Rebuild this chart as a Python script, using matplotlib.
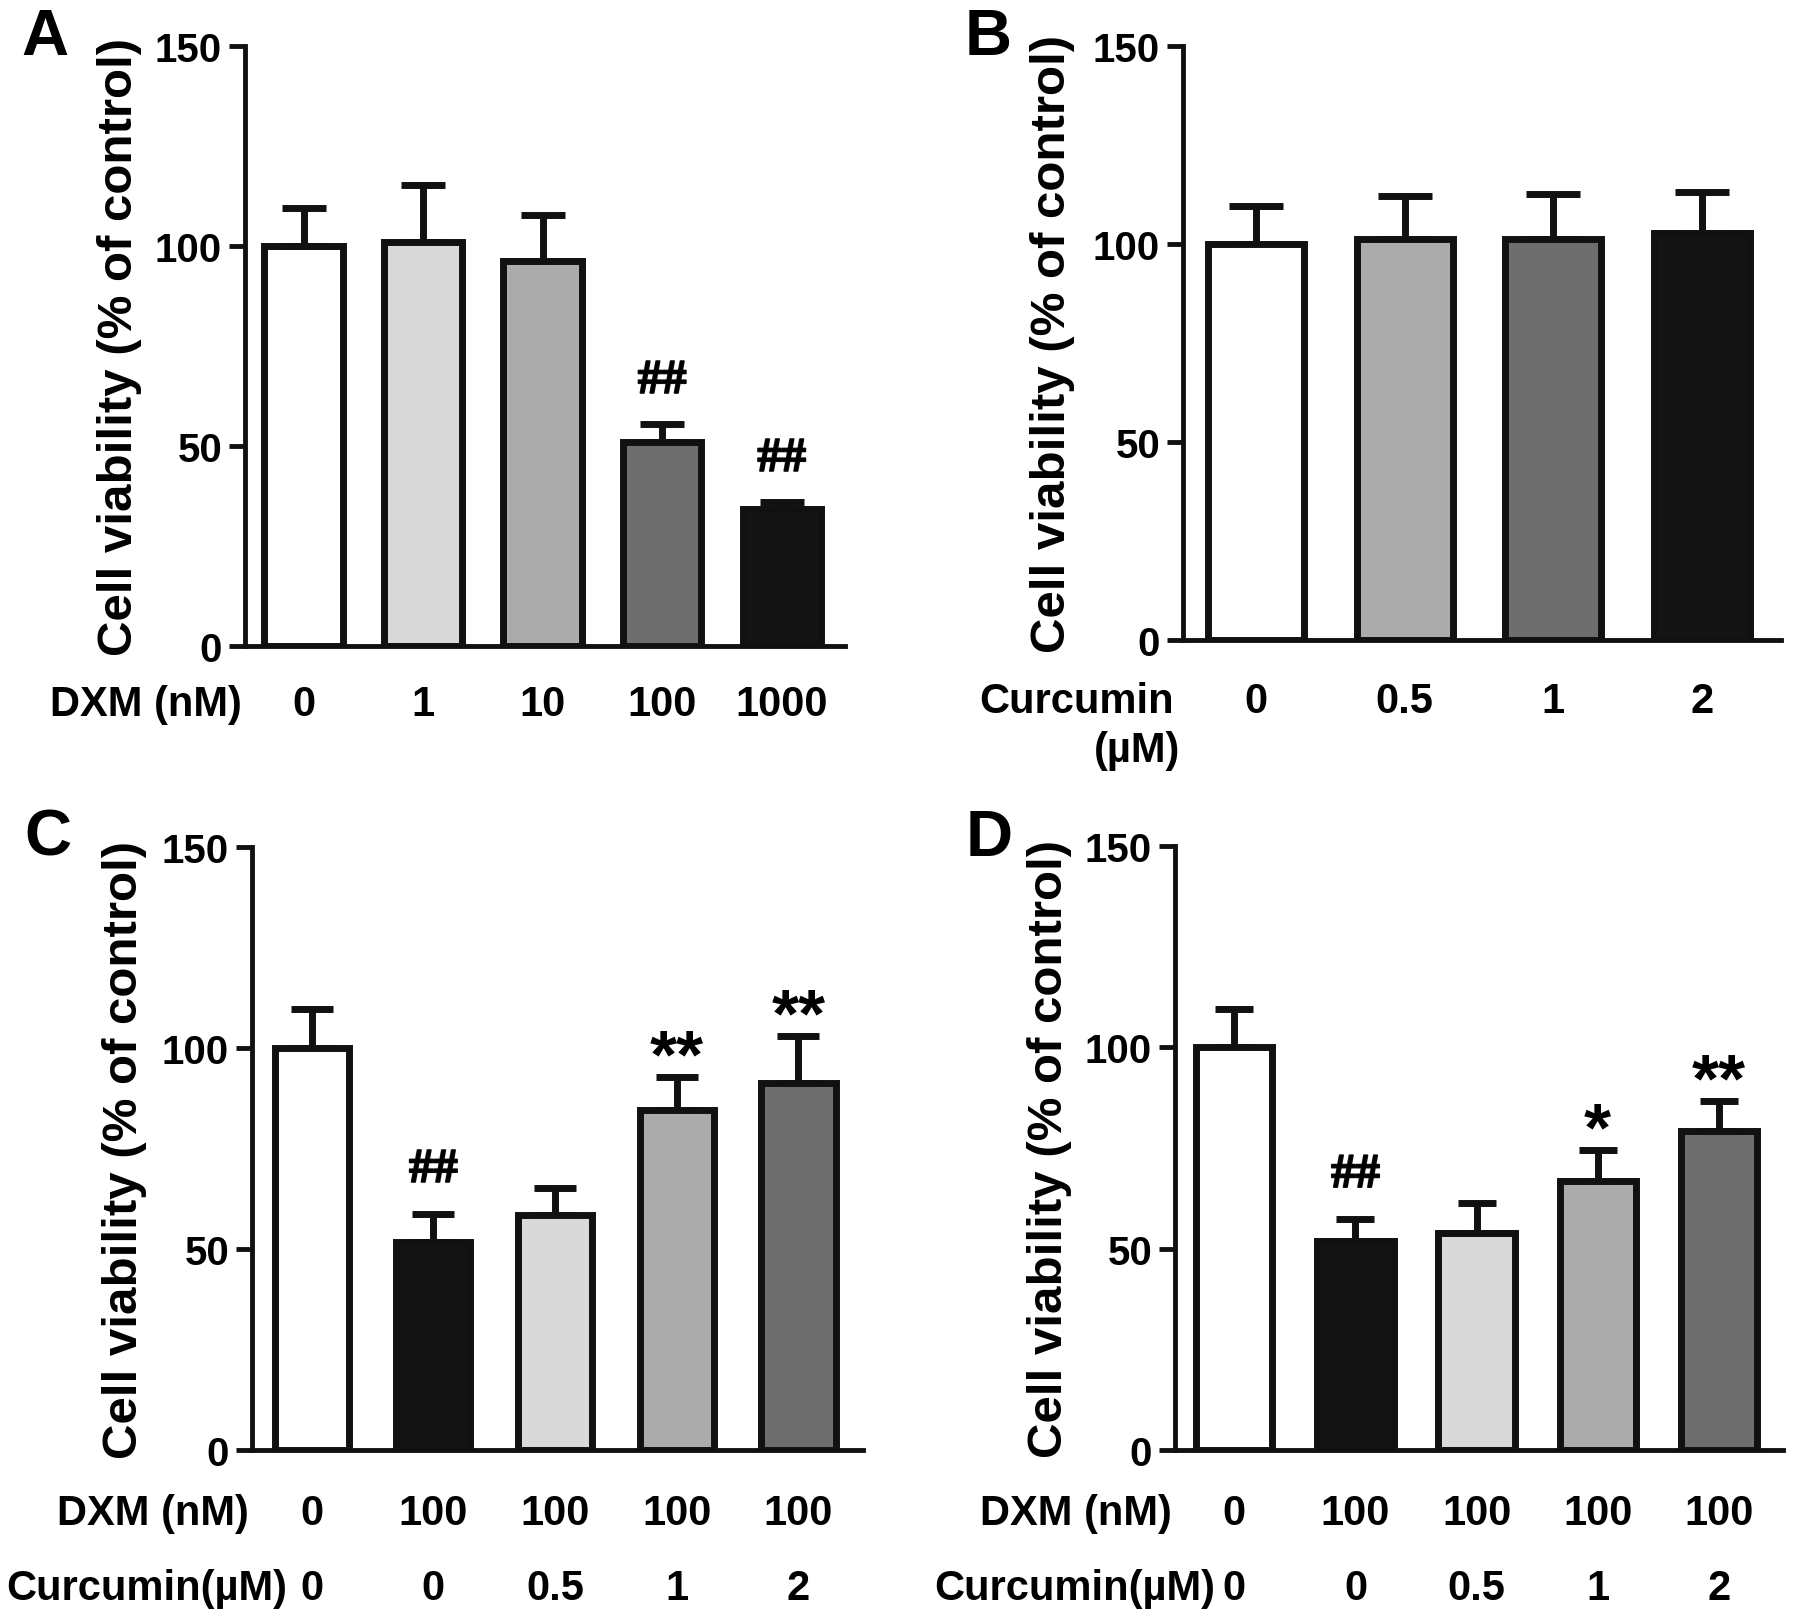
import numpy as np
import matplotlib.pyplot as plt
import matplotlib.patheffects as pe
from matplotlib.transforms import offset_copy

plt.rcParams['font.family'] = ['Liberation Sans', 'DejaVu Sans']
plt.rcParams['font.weight'] = 'bold'
plt.rcParams['axes.labelweight'] = 'bold'

# colores de las barras
blanco = '#ffffff'
claro = '#d9d9d9'
medio = '#ababab'
oscuro = '#6e6e6e'
negro = '#141414'
linea = '#111111'

# Panel A: DXM
dxm_a = ['0', '1', '10', '100', '1000']
media_a = [100, 101, 96.3, 51, 34.3]
sem_a = [9.5, 14.3, 11.5, 4.4, 1.6]
marcas_a = ['', '', '', '##', '##']

# Panel B: curcumina
cur_b = ['0', '0.5', '1', '2']
media_b = [100, 101.2, 101.2, 102.8]
sem_b = [9.5, 11.0, 11.4, 10.4]

# Panel C: DXM + curcumina
dxm_c = ['0', '100', '100', '100', '100']
cur_c = ['0', '0', '0.5', '1', '2']
media_c = [100, 51.8, 58.4, 84.6, 91.4]
sem_c = [9.7, 7.0, 6.8, 8.1, 11.7]
marcas_c = ['', '##', '', '**', '**']

# Panel D: DXM + curcumina
dxm_d = ['0', '100', '100', '100', '100']
cur_d = ['0', '0', '0.5', '1', '2']
media_d = [100, 51.8, 54.0, 66.8, 79.2]
sem_d = [9.6, 5.6, 7.3, 7.8, 7.5]
marcas_d = ['', '##', '', '*', '**']

W, H = 1795, 1624
fig = plt.figure(figsize=(W / 100, H / 100), dpi=100)


def ejes(x0, x1, y150, y0):
    # posicion en pixeles -> fraccion de figura
    return fig.add_axes([x0 / W, 1 - y0 / H, (x1 - x0) / W, (y0 - y150) / H])


def panel(ax, medias, sems, colores, ancho, cap, xlab):
    x = np.arange(len(medias))
    ax.bar(x, medias, width=ancho, color=colores, edgecolor=linea,
           linewidth=5, zorder=3)
    ax.errorbar(x, medias, yerr=[np.zeros(len(sems)), sems], fmt='none',
                ecolor=linea, elinewidth=5, capsize=cap, capthick=5, zorder=2)
    ax.set_xlim(-0.49, len(medias) - 0.47)
    ax.set_ylim(0, 150)
    ax.set_yticks([0, 50, 100, 150])
    ax.set_xticks([])
    ax.tick_params(axis='y', direction='out', length=11.5, width=3.5,
                   labelsize=29, pad=5, color=linea)
    for s in ['top', 'right']:
        ax.spines[s].set_visible(False)
    for s in ['left', 'bottom']:
        ax.spines[s].set_linewidth(3.5)
        ax.spines[s].set_color(linea)
    ax.set_ylabel('Cell viability (% of control)', fontsize=35.5, fontweight='bold')
    ax.yaxis.set_label_coords(xlab, 0.5)


def fila(ax, etiquetas, nombre, baja, dx=-3):
    tr = offset_copy(ax.get_xaxis_transform(), fig=fig, x=0, y=-baja, units='dots')
    for i, t in enumerate(etiquetas):
        ax.text(i, 0, t, transform=tr, ha='center', va='baseline', fontsize=30)
    tn = offset_copy(ax.transAxes, fig=fig, x=dx, y=-baja, units='dots')
    ax.text(0, 0, nombre, transform=tn, ha='right', va='baseline', fontsize=30)


def marcas(ax, medias, sems, textos):
    for i, m in enumerate(textos):
        if m == '':
            continue
        tope = medias[i] + sems[i]
        if '#' in m:
            ax.annotate(m, xy=(i, tope + 12), xytext=(0, -0.34 * 35),
                        textcoords='offset points', ha='center', va='baseline',
                        fontsize=35, fontweight='bold',
                        family=['Liberation Serif', 'DejaVu Serif'],
                        path_effects=[pe.withStroke(linewidth=1.3, foreground=linea)])
        else:
            ax.annotate(m, xy=(i, tope + 10), xytext=(0, -0.57 * 50),
                        textcoords='offset points', ha='center', va='baseline',
                        fontsize=50)


# A
ax_a = ejes(245, 845, 47, 647)
panel(ax_a, media_a, sem_a, [blanco, claro, medio, oscuro, negro], 0.655, 16, -0.172)
fila(ax_a, dxm_a, 'DXM (nM)', 69)
marcas(ax_a, media_a, sem_a, marcas_a)

# B
ax_b = ejes(1183, 1781, 47, 641)
panel(ax_b, media_b, sem_b, [blanco, medio, oscuro, negro], 0.645, 19.5, -0.181)
fila(ax_b, cur_b, 'Curcumin', 72, dx=-9)
tn = offset_copy(ax_b.transAxes, fig=fig, x=-3, y=-121, units='dots')
ax_b.text(0, 0, '(µM)', transform=tn, ha='right', va='baseline', fontsize=30)

# C
ax_c = ejes(252, 863, 848, 1451)
panel(ax_c, media_c, sem_c, [blanco, negro, claro, medio, oscuro], 0.61, 15, -0.172)
fila(ax_c, dxm_c, 'DXM (nM)', 74)
fila(ax_c, cur_c, 'Curcumin(µM)', 149, dx=35)
marcas(ax_c, media_c, sem_c, marcas_c)

# D
ax_d = ejes(1175, 1783, 847, 1451)
panel(ax_d, media_d, sem_d, [blanco, negro, claro, medio, oscuro], 0.63, 13.5, -0.169)
fila(ax_d, dxm_d, 'DXM (nM)', 74)
fila(ax_d, cur_d, 'Curcumin(µM)', 149, dx=40)
marcas(ax_d, media_d, sem_d, marcas_d)

# letras de los paneles
for letra, px, py in [('A', 45, 38), ('B', 988, 38), ('C', 48, 839), ('D', 989, 839)]:
    fig.text(px / W, 1 - py / H, letra, ha='center', va='center', fontsize=47)

fig.savefig('out.png', dpi=100)
